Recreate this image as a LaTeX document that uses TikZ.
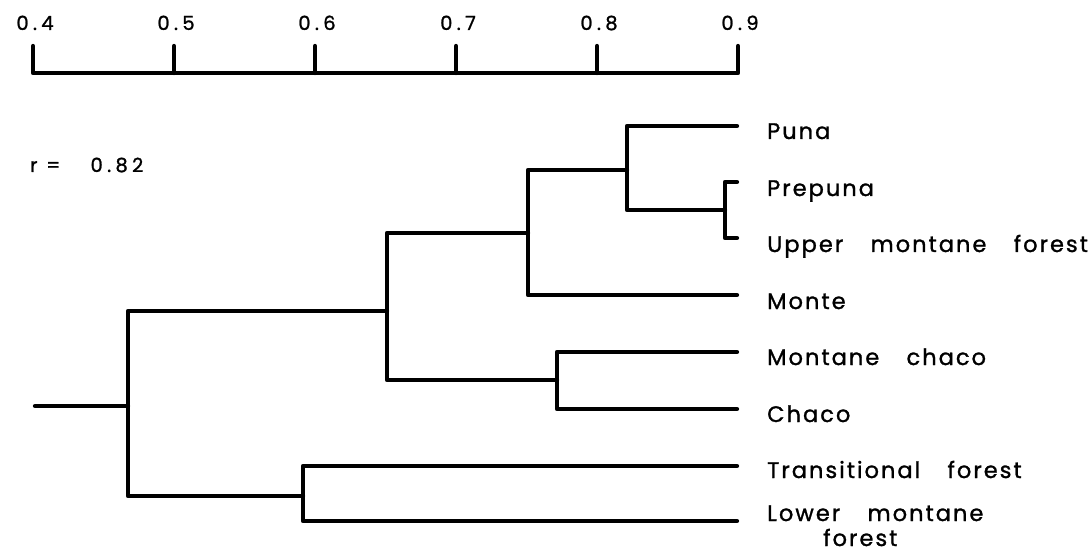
\documentclass[tikz,border=0pt]{standalone}
\usepackage{fontspec}
\newfontfamily\labelfont{Poppins}[LetterSpace=9,WordSpace=3.4,FakeBold=1.2]
\newfontfamily\numfont{Poppins}[LetterSpace=22,FakeBold=1.2]
\begin{document}
\begin{tikzpicture}[x=1pt,y=-1pt,
  br/.style={line width=4.3pt, line cap=round, line join=round},
  leaf/.style={anchor=base west, inner sep=0pt, font=\labelfont\fontsize{22.5}{26}\selectfont},
  num/.style={anchor=base, inner sep=0pt, font=\numfont\fontsize{19.5}{22}\selectfont}]
\useasboundingbox (0,0) rectangle (1089,553);
% axis
\foreach \i/\v in {0/0.4,1/0.5,2/0.6,3/0.7,4/0.8,5/0.9}{
  \coordinate (a\i) at ({33+141*\i},73);
  \coordinate (t\i) at ({33+141*\i},46);
  \node[num] (n\i) at ({33+141*\i+2},30) {\v};
}
\draw[br] (t0) -- (a0) -- (a5) -- (t5);
\foreach \i in {1,2,3,4}{ \draw[br] (a\i) -- (t\i); }
\node[num, anchor=base west] (rv) at (30,172) {r\hspace{0.45em}=\hspace{1.55em}0.82};
% leaves
\coordinate (L1) at (737,126);
\coordinate (L2) at (737,182);
\coordinate (L3) at (737,238);
\coordinate (L4) at (737,295);
\coordinate (L5) at (737,352);
\coordinate (L6) at (737,409);
\coordinate (L7) at (737,466);
\coordinate (L8) at (737,521);
% merge points
\coordinate (N23) at (725,210);
\coordinate (N123) at (627,170);
\coordinate (N1234) at (528,233);
\coordinate (N56) at (557,380);
\coordinate (N16) at (387,311);
\coordinate (N78) at (303,496);
\coordinate (R) at (128,406);
\coordinate (S) at (35,406);
\draw[br] (L2) -| (N23) |- (L3);
\draw[br] (L1) -| (N123) |- (N23);
\draw[br] (N123) -| (N1234) |- (L4);
\draw[br] (L5) -| (N56) |- (L6);
\draw[br] (N1234) -| (N16) |- (N56);
\draw[br] (L7) -| (N78) |- (L8);
\draw[br] (N16) -| (R) |- (N78);
\draw[br] (S) -- (R);
% labels
\node[leaf] (p1) at (767,139) {Puna};
\node[leaf] (p2) at (767,196) {Prepuna};
\node[leaf] (p3) at (767,252) {Upper montane forest};
\node[leaf] (p4) at (767,309) {Monte};
\node[leaf] (p5) at (767,365) {Montane chaco};
\node[leaf] (p6) at (767,422) {Chaco};
\node[leaf] (p7) at (767,478) {Transitional forest};
\node[leaf] (p8) at (767,521) {Lower montane};
\node[leaf] (p8b) at (823,546) {forest};
\end{tikzpicture}
\end{document}
